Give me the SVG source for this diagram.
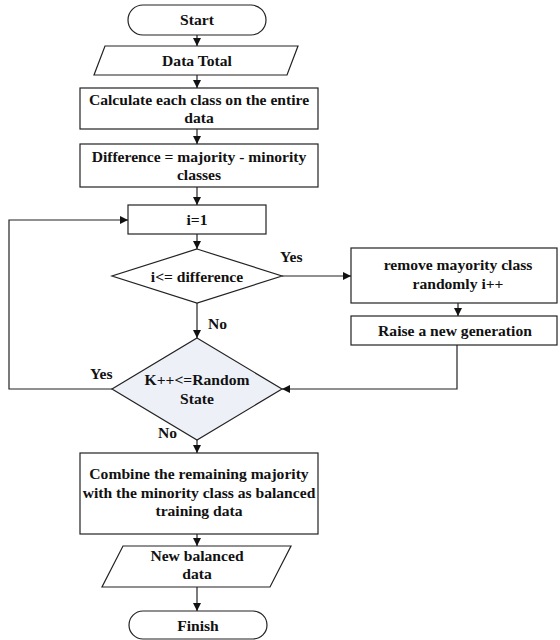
<svg xmlns="http://www.w3.org/2000/svg" width="560" height="640" viewBox="0 0 560 640">
<defs>
<marker id="ah" viewBox="0 0 10 10" refX="10" refY="5" markerWidth="8" markerHeight="8" markerUnits="userSpaceOnUse" orient="auto">
<path d="M0,0 L10,5 L0,10 z" fill="#111"/>
</marker>
</defs>
<style>
.s{fill:#fff;stroke:#222;stroke-width:1.2}
.d2{fill:#eef0f8;stroke:#222;stroke-width:1.2}
.c{fill:none;stroke:#222;stroke-width:1.2;marker-end:url(#ah)}
text{font-family:"Liberation Serif","Times New Roman",serif;font-weight:bold;font-size:15.6px;fill:#111;text-anchor:middle}
.l{text-anchor:start}
</style>
<rect width="560" height="640" fill="#fff"/>
<g id="start"><rect class="s" x="128" y="5" width="138" height="30" rx="15"/><text x="197" y="25">Start</text></g>
<g id="datatotal"><polygon class="s" points="105,46 298,46 287,75 94,75"/><text x="197" y="66">Data Total</text></g>
<g id="calc"><rect class="s" x="80" y="88" width="238" height="41"/><text x="199" y="104.5">Calculate each class on the entire</text><text x="199" y="122.5">data</text></g>
<g id="diff"><rect class="s" x="80" y="144" width="238" height="43"/><text x="199" y="161.5">Difference = majority - minority</text><text x="199" y="179.5">classes</text></g>
<g id="i1"><rect class="s" x="128" y="205" width="138" height="29"/><text x="197" y="225">i=1</text></g>
<g id="cond1"><polygon class="s" points="197,249 282,276 197,303 112,276"/><text x="197" y="282">i&lt;= difference</text></g>
<g id="remove"><rect class="s" x="351" y="248" width="206" height="55"/><text x="458" y="270">remove mayority class</text><text x="458" y="288.5">randomly i++</text></g>
<g id="raise"><rect class="s" x="351" y="316" width="206" height="29"/><text x="455" y="336">Raise a new generation</text></g>
<g id="cond2"><polygon class="d2" points="197,338 282,389 197,440 112,389"/><text x="197" y="385">K++&lt;=Random</text><text x="197" y="404">State</text></g>
<g id="combine"><rect class="s" x="80" y="453" width="238" height="81"/><text x="199" y="479">Combine the remaining majority</text><text x="199" y="497.5">with the minority class as balanced</text><text x="199" y="516">training data</text></g>
<g id="newdata"><polygon class="s" points="123,546 291,546 270,587 102,587"/><text x="197" y="560.5">New balanced</text><text x="197" y="579">data</text></g>
<g id="finish"><rect class="s" x="129" y="611" width="138" height="28" rx="14"/><text x="198" y="631">Finish</text></g>
<g id="connectors">
<line class="c" x1="197" y1="35" x2="197" y2="46"/>
<line class="c" x1="197" y1="75" x2="197" y2="88"/>
<line class="c" x1="197" y1="129" x2="197" y2="144"/>
<line class="c" x1="197" y1="187" x2="197" y2="205"/>
<line class="c" x1="197" y1="234" x2="197" y2="249"/>
<line class="c" x1="197" y1="303" x2="197" y2="338"/>
<line class="c" x1="282" y1="276" x2="351" y2="276"/>
<line class="c" x1="458" y1="303" x2="458" y2="316"/>
<polyline class="c" points="457,345 457,389 282,389"/>
<polyline class="c" points="112,389 9,389 9,220 128,220"/>
<line class="c" x1="197" y1="440" x2="197" y2="453"/>
<line class="c" x1="197" y1="534" x2="197" y2="546"/>
<line class="c" x1="197" y1="587" x2="197" y2="611"/>
<text class="l" x="280" y="262">Yes</text>
<text class="l" x="208" y="329">No</text>
<text class="l" x="90" y="379">Yes</text>
<text class="l" x="158" y="438">No</text>
</g>
</svg>
